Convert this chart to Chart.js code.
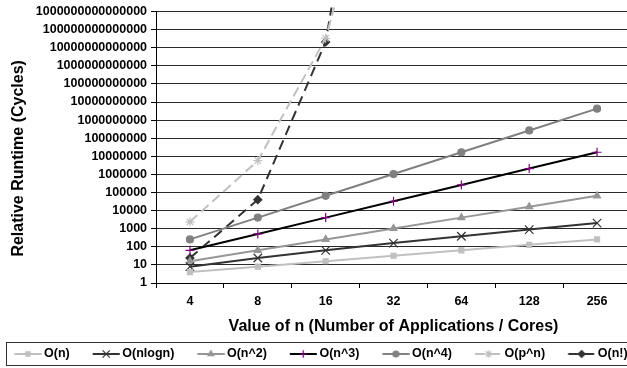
<!DOCTYPE html>
<html>
<head>
<meta charset="utf-8">
<script src="https://cdn.jsdelivr.net/npm/chart.js@4.4.1/dist/chart.umd.min.js"></script>
<style>
  html, body { margin: 0; padding: 0; overflow: hidden; background: #fff; }
  #wrap { width: 660px; height: 368px; }
</style>
</head>
<body>
<div id="wrap"><canvas id="runtimeChart" width="660" height="368"></canvas></div>
<script>
// values of n on the x axis
const nValues = ['4', '8', '16', '32', '64', '128', '256'];
const seriesNames = ['O(n)', 'O(nlogn)', 'O(n^2)', 'O(n^3)', 'O(n^4)', 'O(p^n)', 'O(n!)'];

// runtimes in cycles, one array per complexity class
const linearCycles = [4, 8, 16, 32, 64, 128, 256];
const nLogNCycles = [8, 24, 64, 160, 384, 896, 2048];
const squareCycles = [16, 64, 256, 1024, 4096, 16384, 65536];
const cubeCycles = [64, 512, 4096, 32768, 262144, 2097152, 16777216];
const quarticCycles = [256, 4096, 65536, 1048576, 16777216, 268435456, 4294967296];
const expCycles = [2401, 5764801, 33232930569601, 1.1e27, null, null, null];
const factCycles = [24, 40320, 20922789888000, 2.63e35, null, null, null];

const yTickValues = [1, 10, 100, 1000, 10000, 100000, 1000000, 10000000, 100000000,
  1000000000, 10000000000, 100000000000, 1000000000000, 10000000000000,
  100000000000000, 1000000000000000];

const seriesData = [linearCycles, nLogNCycles, squareCycles, cubeCycles, quarticCycles, expCycles, factCycles];

const seriesStyles = [
  { color: '#c0c0c0', marker: 'rect', markerColor: '#c0c0c0', radius: 3.5, dash: [] },
  { color: '#333333', marker: 'crossRot', markerColor: '#333333', radius: 6, dash: [] },
  { color: '#969696', marker: 'triangle', markerColor: '#969696', radius: 4, dash: [] },
  { color: '#000000', marker: 'cross', markerColor: '#800080', radius: 4.5, dash: [] },
  { color: '#808080', marker: 'circle', markerColor: '#808080', radius: 3.5, dash: [] },
  { color: '#c0c0c0', marker: 'star', markerColor: '#c0c0c0', radius: 4.5, dash: [10, 5] },
  { color: '#333333', marker: 'rectRot', markerColor: '#333333', radius: 4, dash: [10, 6] }
];

const fontFamily = "'Liberation Sans', Arial, sans-serif";
const tickFont = { family: fontFamily, size: 12.5, weight: 'bold' };
const titleFont = { family: fontFamily, size: 16, weight: 'bold' };
const legendPadding = 8;
const legendBoxWidth = 38.35;
const plotRight = 631;

Chart.defaults.font.family = fontFamily;
Chart.defaults.color = '#000';

// small line + marker picture used as the legend symbol
function makeLegendSample(s) {
  const c = document.createElement('canvas');
  const w = 2 * Math.ceil(legendBoxWidth / 2 + 3.8);
  c.width = w;
  c.height = 14;
  const g = c.getContext('2d');
  const end = w / 2 + legendBoxWidth / 2 + 3.6;
  const start = end - 27;
  g.strokeStyle = s.color;
  g.lineWidth = 2;
  g.setLineDash(s.dash);
  g.beginPath();
  g.moveTo(start, 7);
  g.lineTo(end, 7);
  g.stroke();
  g.setLineDash([]);
  g.fillStyle = s.markerColor;
  g.strokeStyle = s.markerColor;
  g.lineWidth = 1.2;
  const mx = (start + end) / 2;
  if (Chart.helpers && Chart.helpers.drawPoint) {
    Chart.helpers.drawPoint(g, { pointStyle: s.marker, radius: s.radius * 0.85, rotation: 0, borderWidth: 1.2 }, mx, 7);
  } else {
    g.fillRect(mx - 2.5, 4.5, 5, 5);
  }
  return c;
}

const legendSamples = seriesStyles.map(makeLegendSample);

const datasets = seriesData.map((data, i) => {
  const s = seriesStyles[i];
  return {
    label: seriesNames[i],
    data: data,
    borderColor: s.color,
    borderWidth: 2,
    borderDash: s.dash,
    pointStyle: s.marker,
    pointRadius: s.radius,
    pointBackgroundColor: s.markerColor,
    pointBorderColor: s.markerColor,
    pointBorderWidth: 1.2,
    tension: 0,
    fill: false,
    clip: 4
  };
});

// legend row starts a little left of the canvas edge, and gets a frame
const legendFrame = {
  id: 'legendFrame',
  afterLayout(chart) {
    chart.legend.left -= 8.6;
  },
  afterDraw(chart) {
    const lg = chart.legend;
    const yc = lg.top + legendPadding + tickFont.size / 2;
    const ctx = chart.ctx;
    ctx.save();
    ctx.strokeStyle = '#333';
    ctx.lineWidth = 1;
    ctx.strokeRect(6.5, Math.floor(yc - 11.5) + 0.5, 630, 23);
    ctx.restore();
  }
};

new Chart(document.getElementById('runtimeChart'), {
  type: 'line',
  data: { labels: nValues, datasets: datasets },
  plugins: [legendFrame],
  options: {
    responsive: false,
    animation: false,
    layout: { padding: { left: 0, right: 0, top: 10.5, bottom: 0 } },
    plugins: {
      tooltip: { enabled: false },
      legend: {
        position: 'bottom',
        align: 'start',
        maxHeight: legendPadding + 20.25,
        labels: {
          usePointStyle: true,
          pointStyleWidth: legendBoxWidth,
          padding: legendPadding,
          font: tickFont,
          color: '#000',
          generateLabels: chart => chart.data.datasets.map((ds, i) => ({
            text: ds.label,
            pointStyle: legendSamples[i],
            fillStyle: 'rgba(0,0,0,0)',
            strokeStyle: 'rgba(0,0,0,0)',
            lineWidth: 0,
            hidden: false,
            fontColor: '#000',
            datasetIndex: i
          }))
        }
      }
    },
    scales: {
      x: {
        type: 'category',
        offset: true,
        grid: { offset: true, drawOnChartArea: false, drawTicks: true, tickLength: 5, color: '#000' },
        border: { color: '#000', width: 1 },
        ticks: { padding: 6.5, font: tickFont, color: '#000', maxRotation: 0, autoSkip: false },
        title: {
          display: true,
          text: 'Value of n (Number of Applications / Cores)',
          font: titleFont,
          color: '#000',
          padding: { top: 1.1, bottom: 3.45 }
        }
      },
      y: {
        type: 'logarithmic',
        min: 1,
        max: 1e15,
        afterBuildTicks: scale => {
          scale.ticks = yTickValues.map(v => ({ value: v }));
        },
        grid: { color: '#2a2a2a', tickColor: '#000', tickLength: 5, lineWidth: 1 },
        border: { color: '#000', width: 1 },
        ticks: { autoSkip: false, padding: 4, font: tickFont, color: '#000', callback: v => String(v) },
        title: {
          display: true,
          // trailing spaces push the rotated title a bit lower, as in the original
          text: 'Relative Runtime (Cycles)     ',
          font: titleFont,
          color: '#000',
          padding: { top: 9.4, bottom: 3.2 }
        }
      },
      // empty right-hand axis only to stop the plot area at the original right edge
      yRight: {
        type: 'linear',
        position: 'right',
        display: true,
        grid: { display: false },
        border: { display: false },
        ticks: { display: false },
        afterFit: scale => {
          scale.width = 660 - plotRight;
        }
      }
    }
  }
});
</script>
</body>
</html>
